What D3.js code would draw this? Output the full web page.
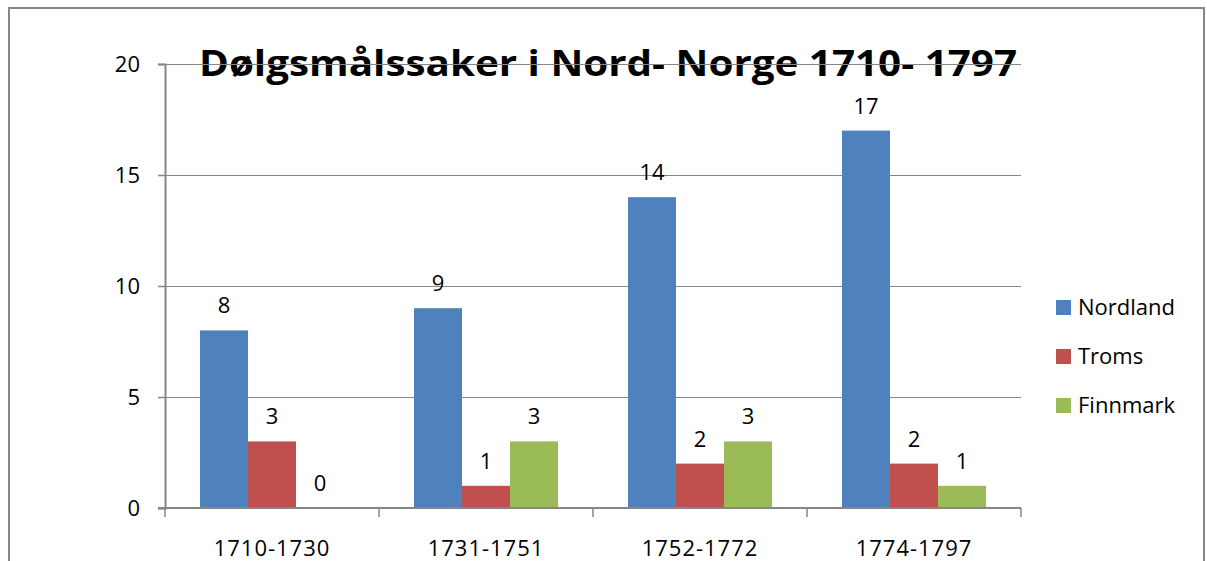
<!DOCTYPE html>
<html>
<head>
<meta charset="utf-8">
<script src="https://cdn.jsdelivr.net/npm/d3@7"></script>
<style>
  html, body { margin: 0; padding: 0; background: #fff; }
  svg { display: block; font-family: 'Open Sans', 'Noto Sans', sans-serif; }
</style>
</head>
<body>
<svg id="chart" width="1207" height="561"></svg>
<script>
// data
const periods = ['1710-1730', '1731-1751', '1752-1772', '1774-1797'];
const regions = ['Nordland', 'Troms', 'Finnmark'];
const nordland = [8, 9, 14, 17];
const troms = [3, 1, 2, 2];
const finnmark = [0, 3, 3, 1];
const yTicks = [0, 5, 10, 15, 20];
const colors = ['#4F81BD', '#C0504D', '#9BBB59'];

const series = [nordland, troms, finnmark];
const rows = periods.map((p, i) => ({ period: p, values: regions.map((r, j) => ({ region: r, value: series[j][i] })) }));

const svg = d3.select('#chart');
const plot = { left: 165, right: 1021, top: 64, bottom: 508 };

// outer frame
svg.append('rect')
  .attr('x', 9).attr('y', 8).attr('width', 1195).attr('height', 570)
  .attr('fill', 'none').attr('stroke', '#868686').attr('stroke-width', 2);

const x0 = d3.scaleBand().domain(periods).range([plot.left, plot.right]);
const x1 = d3.scaleBand().domain(regions).range([0, 144]);
const y = d3.scaleLinear().domain([0, 20]).range([plot.bottom, plot.top]);
const color = d3.scaleOrdinal().domain(regions).range(colors);

// title (drawn under the gridlines, as in the reference)
svg.append('text')
  .attr('x', 608).attr('y', 76)
  .attr('text-anchor', 'middle')
  .style('font-weight', 700).style('font-size', '35px')
  .attr('textLength', 818).attr('lengthAdjust', 'spacingAndGlyphs')
  .text('Dølgsmålssaker i Nord- Norge 1710- 1797');

// gridlines
svg.append('g')
  .selectAll('line').data(yTicks.filter(d => d > 0)).join('line')
  .attr('x1', plot.left).attr('x2', plot.right)
  .attr('y1', d => Math.round(y(d)) + 0.5).attr('y2', d => Math.round(y(d)) + 0.5)
  .attr('stroke', '#868686').attr('stroke-width', 1);

// y axis
const yAxis = svg.append('g')
  .attr('transform', `translate(${plot.left},0)`)
  .call(d3.axisLeft(y).tickValues(yTicks).tickSize(7).tickPadding(18));
yAxis.select('.domain').attr('stroke', '#868686').attr('stroke-width', 2);
yAxis.selectAll('.tick line').attr('stroke', '#868686').attr('stroke-width', 1.5);
yAxis.selectAll('.tick text').style('font-size', '22px').attr('fill', '#000')
  .style('font-family', "'Open Sans', sans-serif");

// bars
const groups = svg.append('g').selectAll('g').data(rows).join('g')
  .attr('transform', d => `translate(${x0(d.period) + (x0.bandwidth() - 144) / 2},0)`);

groups.selectAll('rect').data(d => d.values).join('rect')
  .attr('x', d => x1(d.region))
  .attr('width', x1.bandwidth())
  .attr('y', d => y(d.value))
  .attr('height', d => y(0) - y(d.value))
  .attr('fill', d => color(d.region));

groups.selectAll('text').data(d => d.values).join('text')
  .attr('x', d => x1(d.region) + x1.bandwidth() / 2)
  .attr('y', d => y(d.value) - 17)
  .attr('text-anchor', 'middle')
  .style('font-size', '22px')
  .text(d => d.value);

// x axis
const xAxis = svg.append('g')
  .attr('transform', `translate(0,${plot.bottom})`)
  .call(d3.axisBottom(x0).tickSize(0).tickPadding(32));
xAxis.select('.domain').remove();
xAxis.append('line')
  .attr('x1', plot.left - 7).attr('x2', plot.right).attr('y1', 0).attr('y2', 0)
  .attr('stroke', '#868686').attr('stroke-width', 2);
xAxis.selectAll('.sep').data(periods.concat(['end'])).join('line')
  .attr('class', 'sep')
  .attr('x1', (d, i) => plot.left + i * x0.bandwidth()).attr('x2', (d, i) => plot.left + i * x0.bandwidth())
  .attr('y1', 0).attr('y2', 9)
  .attr('stroke', '#868686').attr('stroke-width', 1.5);
xAxis.selectAll('.tick text').style('font-size', '22px').style('letter-spacing', '1px')
  .attr('fill', '#000').style('font-family', "'Open Sans', sans-serif");

// legend
const legend = svg.append('g').attr('transform', 'translate(1056,300)');
const item = legend.selectAll('g').data(regions).join('g')
  .attr('transform', (d, i) => `translate(0,${i * 49})`);
item.append('rect').attr('width', 15).attr('height', 15).attr('fill', d => color(d));
item.append('text').attr('x', 22).attr('y', 15).style('font-size', '22px').text(d => d);
</script>
</body>
</html>
